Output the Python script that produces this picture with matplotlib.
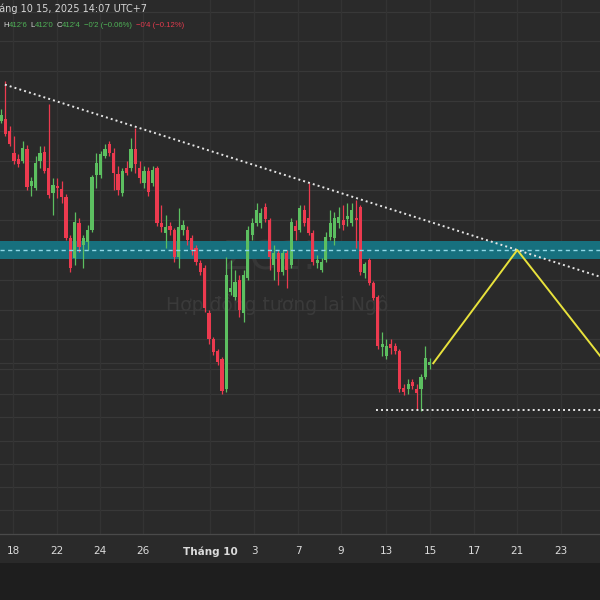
import matplotlib
matplotlib.use("Agg")
import matplotlib.pyplot as plt
from matplotlib.patches import Rectangle
import numpy as np

# ZC1! (corn futures) bars, prices in cents
opens = [428.67, 428.8, 428.0, 426.53, 426.13, 426.0, 426.8, 424.27, 424.13, 426.0,
         426.6, 425.53, 423.8, 424.27, 424.07, 423.53, 420.8, 419.47, 421.8, 420.33,
         420.53, 421.33, 425.0, 425.0, 426.33, 427.13, 426.53, 425.13, 423.8, 425.53,
         425.53, 426.8, 425.53, 424.47, 425.33, 424.47, 425.53, 421.8, 421.13, 421.6,
         421.33, 419.53, 421.33, 421.33, 420.8, 420.13, 419.13, 418.8, 415.8, 414.0,
         413.2, 412.67, 410.67, 417.2, 416.87, 418.0, 415.8, 418.13, 421.0, 421.8,
         421.8, 422.87, 422.0, 419.0, 419.8, 418.53, 419.8, 419.0, 421.6, 421.33,
         422.67, 422.13, 421.13, 419.13, 418.67, 419.33, 420.87, 420.8, 421.8, 422.0,
         422.07, 421.8, 422.13, 422.87, 418.47, 419.33, 417.8, 416.87, 413.47, 412.87,
         413.67, 413.53, 413.2, 410.73, 410.67, 411.13, 410.67, 410.67, 411.47, 412.25]
highs = [429.47, 431.33, 428.33, 427.67, 426.47, 427.33, 427.07, 424.87, 426.33, 427.0,
         427.0, 429.8, 424.8, 424.8, 424.6, 423.73, 421.0, 422.53, 422.13, 421.0,
         421.67, 425.0, 426.53, 426.67, 427.13, 427.33, 426.87, 425.67, 425.53, 426.0,
         427.53, 428.2, 426.0, 425.67, 425.6, 425.67, 425.67, 423.0, 422.33, 421.87,
         421.47, 422.8, 422.0, 421.6, 421.0, 420.33, 419.33, 419.0, 416.0, 414.13,
         413.33, 412.8, 419.53, 419.33, 418.67, 418.33, 418.67, 421.6, 422.13, 423.13,
         422.8, 423.13, 422.13, 420.33, 420.0, 420.0, 420.0, 422.13, 422.0, 423.0,
         423.0, 424.47, 421.33, 419.67, 419.47, 421.2, 422.67, 422.53, 422.87, 423.0,
         423.13, 423.13, 423.33, 423.0, 419.2, 419.47, 417.93, 417.0, 414.47, 414.0,
         414.0, 413.73, 413.33, 411.0, 411.33, 411.33, 411.0, 411.67, 413.53, 412.75]
lows = [428.53, 427.67, 427.0, 425.8, 425.6, 425.87, 424.0, 423.6, 424.0, 425.47,
        425.2, 423.47, 422.33, 423.47, 423.13, 420.67, 418.53, 419.0, 419.87, 418.8,
        420.0, 421.2, 424.13, 424.8, 426.2, 426.33, 424.0, 423.67, 423.6, 425.0,
        425.33, 425.2, 424.53, 424.13, 423.6, 424.27, 421.6, 421.2, 420.13, 421.0,
        419.2, 418.8, 421.0, 420.33, 419.67, 419.0, 418.33, 415.87, 413.67, 412.93,
        412.27, 410.33, 410.47, 417.0, 416.67, 415.47, 415.2, 418.0, 420.67, 421.6,
        421.47, 421.87, 418.67, 418.0, 417.67, 418.33, 417.47, 418.8, 420.67, 421.2,
        421.6, 421.0, 419.0, 418.8, 418.53, 419.2, 420.67, 420.33, 421.47, 421.33,
        421.6, 421.6, 420.13, 418.33, 418.13, 417.67, 416.67, 413.33, 412.87, 412.67,
        413.0, 413.0, 410.47, 410.27, 410.33, 410.67, 409.33, 409.2, 411.33, 412.0]
closes = [429.07, 427.8, 427.13, 426.0, 425.8, 426.87, 424.2, 424.6, 425.87, 426.53,
          425.33, 423.67, 424.33, 424.13, 423.53, 420.8, 418.8, 421.87, 420.2, 420.8,
          421.33, 424.87, 425.87, 426.47, 426.8, 426.53, 425.2, 424.0, 425.33, 425.2,
          426.8, 425.8, 424.8, 425.33, 423.87, 425.4, 421.8, 421.53, 421.53, 421.33,
          419.53, 421.53, 421.67, 420.67, 420.0, 419.2, 418.53, 416.13, 414.0, 413.13,
          412.47, 410.53, 418.33, 417.47, 417.87, 416.0, 418.33, 421.33, 421.8, 422.67,
          422.47, 422.07, 419.53, 419.8, 418.53, 419.8, 418.67, 421.87, 421.27, 422.8,
          421.8, 421.13, 419.2, 419.33, 419.2, 420.87, 421.8, 422.13, 422.2, 421.67,
          422.27, 422.67, 422.0, 418.53, 419.07, 417.8, 416.8, 413.53, 413.67, 413.53,
          413.4, 413.2, 410.67, 410.47, 411.0, 410.87, 410.4, 411.47, 412.75, 412.5]

# date axis (bar index where each day label sits)
tick_pos = [2.77, 12.93, 22.86, 32.79, 48.27, 58.43, 68.59, 78.52, 88.91, 99.08, 109.24, 119.17, 129.33]
tick_labels = ['18', '22', '24', '26', 'Tháng 10', '3', '7', '9', '13', '15', '17', '21', '23']

# price grid levels
grid_levels = [436, 434, 432, 430, 428, 426, 424, 422, 420, 418, 416, 414, 412,
               412.42, 410.34, 408.79, 407.18, 405.64, 404.09, 402.55]

# drawings
zone_low, zone_high, zone_mid = 419.4, 420.6, 420.0
trend_pts = [(0.9, 431.1), (119.2, 420.0)]
support_start, support_level = 86.6, 409.25
path_x = [99.8, 119.2, 138.3]
path_y = [412.4, 420.0, 412.9]

BG = '#2a2a2a'
GRID = '#383838'
UP = '#5cbf60'
DOWN = '#ec3a4f'

fig = plt.figure(figsize=(6, 6), dpi=100, facecolor='#1e1e1e')

# axis strip below the plot (drawn first, behind the axes)
fig.patches.append(Rectangle((0, 37 / 600), 1, 29 / 600, transform=fig.transFigure,
                             facecolor=BG, edgecolor='none', zorder=-5))

ax = fig.add_axes([0, 66 / 600, 1, 534 / 600])
ax.set_facecolor(BG)

x0, x1 = -0.23, 138.3
ax.set_xlim(x0, x1)
ax.set_ylim(420 - 284 / 14.9, 420 + 250 / 14.9)

for lvl in grid_levels:
    ax.axhline(lvl, color=GRID, lw=0.9, zorder=0)
for tp in tick_pos:
    ax.axvline(tp, color='#333333', lw=0.9, zorder=0)

# watermark
ax.text(0.45, 0.515, 'ZC1!', transform=ax.transAxes, ha='center', va='center',
        fontsize=28, color='#373737', zorder=0.5)
ax.text(0.462, 0.43, 'Hợp đồng tương lai Ngô', transform=ax.transAxes, ha='center',
        va='center', fontsize=13.5, color='#3a3a3a', zorder=0.5)

# zone
ax.axhspan(zone_low, zone_high, color='#17707e', lw=0, zorder=1)

# candles
o = np.array(opens)
h = np.array(highs)
l = np.array(lows)
c = np.array(closes)
idx = np.arange(len(o))
cols = [UP if cc >= oo else DOWN for oo, cc in zip(o, c)]
ax.vlines(idx, l, h, colors=cols, lw=0.9, zorder=2)
body_low = np.minimum(o, c)
body_h = np.maximum(np.abs(c - o), 0.08)
ax.bar(idx, body_h, bottom=body_low, width=0.75, color=cols, lw=0, zorder=3)

ax.axhline(zone_mid, color='#8fd8e6', lw=1, linestyle=(0, (3, 2.5)), zorder=4)

# descending trend line, extended to the right edge
(tx0, ty0), (tx1, ty1) = trend_pts
slope = (ty1 - ty0) / (tx1 - tx0)
ax.plot([tx0, x1], [ty0, ty0 + slope * (x1 - tx0)], color='#e6e6e6', lw=1.4,
        linestyle=(0, (1, 1.6)), zorder=5)

# support line
ax.plot([support_start, x1], [support_level, support_level], color='#e6e6e6', lw=1.4,
        linestyle=(0, (1, 1.6)), zorder=5)

# projected path
ax.plot(path_x, path_y, color='#e8e23c', lw=1.4, zorder=6)

ax.set_yticks([])
ax.set_xticks(tick_pos)
ax.set_xticklabels(tick_labels, fontsize=7.5, color='#dcdcdc')
for lab in ax.get_xticklabels():
    if lab.get_text().startswith('Tháng'):
        lab.set_fontweight('bold')
ax.tick_params(axis='x', length=0, pad=9)
for side in ['top', 'left', 'right']:
    ax.spines[side].set_visible(False)
ax.spines['bottom'].set_color('#4a4a4a')
ax.spines['bottom'].set_linewidth(0.9)

# header legend
fig.text(-13 / 600, 1 - 9 / 600, 'Tháng 10 15, 2025 14:07 UTC+7', fontsize=7,
         color='#d6d6d6', va='center', ha='left')
green_txt = '#4fb257'
red_txt = '#e23b4e'
parts = [("H", '#d6d6d6', 0.3), ("412'6", green_txt, 0.3), ("L", '#d6d6d6', 1.8),
         ("412'0", green_txt, 0.3), ("C", '#d6d6d6', 1.8), ("412'4", green_txt, 0.3),
         ("−0'2 (−0.06%)", green_txt, 2.5), ("−0'4 (−0.12%)", red_txt, 2.5)]
prev = None
for txt, col, gap in parts:
    if prev is None:
        prev = fig.text(3 / 600, 1 - 29 / 600, txt, fontsize=5.6, color=col,
                        va='bottom', ha='left', family='Liberation Sans')
    else:
        prev = ax.annotate(txt, xy=(1, 0), xycoords=prev, xytext=(gap, 0),
                           textcoords='offset points', fontsize=5.6, color=col,
                           va='bottom', ha='left', family='Liberation Sans',
                           annotation_clip=False)

fig.savefig('out.png', dpi=100, facecolor=fig.get_facecolor())
